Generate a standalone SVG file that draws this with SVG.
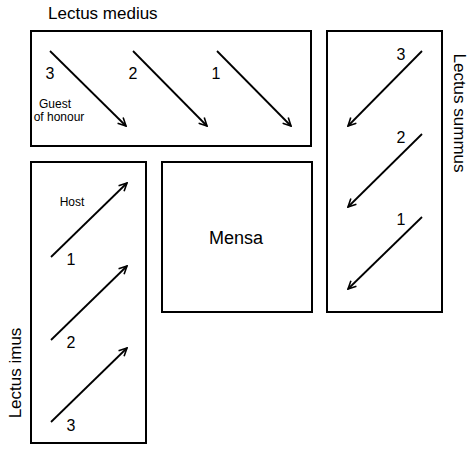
<svg xmlns="http://www.w3.org/2000/svg" width="474" height="474" viewBox="0 0 474 474">
<defs>
<marker id="arr" viewBox="0 0 10 10" refX="9" refY="5" markerWidth="5.5" markerHeight="5.5" orient="auto" markerUnits="strokeWidth">
<path d="M1,1 L9,5 L1,9" fill="none" stroke="#000" stroke-width="1.6"/>
</marker>
<style>
.box{fill:#fff;stroke:#000;stroke-width:2}
.arrow{stroke:#000;stroke-width:1.8;fill:none;marker-end:url(#arr)}
text{font-family:"Liberation Sans",Arial,sans-serif;fill:#000}
.num{font-size:16px;text-anchor:middle}
.small{font-size:12px;text-anchor:middle}
.title{font-size:17px}
</style>
</defs>
<rect width="474" height="474" fill="#fff"/>
<g id="lectus-medius">
<rect class="box" x="31" y="31" width="280" height="115"/>
<text class="title" x="48" y="19">Lectus medius</text>
<text class="num" x="50" y="79">3</text>
<text class="num" x="133" y="79">2</text>
<text class="num" x="216" y="79">1</text>
<text class="small" x="55" y="108">Guest</text>
<text class="small" x="59" y="121">of honour</text>
</g>
<g id="lectus-summus">
<rect class="box" x="327" y="31" width="115" height="281"/>
<text class="title" transform="translate(454,113) rotate(90)" text-anchor="middle">Lectus summus</text>
<text class="num" x="401" y="60">3</text>
<text class="num" x="401" y="143">2</text>
<text class="num" x="401" y="225">1</text>
</g>
<g id="lectus-imus">
<rect class="box" x="31" y="162" width="115" height="281"/>
<text class="title" transform="translate(21,373) rotate(-90)" text-anchor="middle">Lectus imus</text>
<text class="num" x="71" y="265">1</text>
<text class="num" x="71" y="348">2</text>
<text class="num" x="71" y="431">3</text>
<text class="small" x="72" y="206">Host</text>
</g>
<g id="mensa">
<rect class="box" x="162" y="162" width="150" height="150"/>
<text x="236" y="244" font-size="18" text-anchor="middle">Mensa</text>
</g>
<g id="connectors">
<line class="arrow" x1="50" y1="51" x2="126" y2="126"/>
<line class="arrow" x1="133" y1="51" x2="207" y2="126"/>
<line class="arrow" x1="217" y1="51" x2="291" y2="126"/>
<line class="arrow" x1="422" y1="51" x2="348" y2="126"/>
<line class="arrow" x1="422" y1="134" x2="348" y2="207"/>
<line class="arrow" x1="422" y1="217" x2="348" y2="289"/>
<line class="arrow" x1="51" y1="257" x2="127" y2="183"/>
<line class="arrow" x1="51" y1="340" x2="127" y2="266"/>
<line class="arrow" x1="51" y1="422" x2="127" y2="348"/>
</g>
</svg>
